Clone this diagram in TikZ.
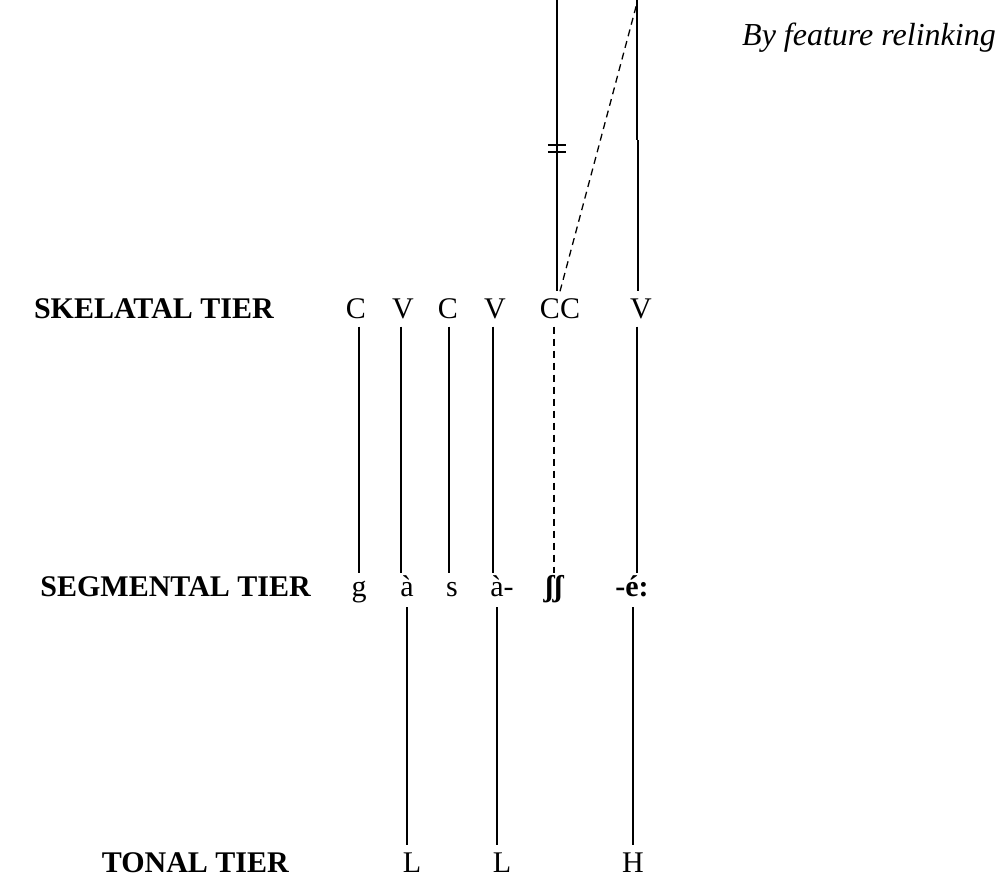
\documentclass[tikz,border=0pt]{standalone}
\usepackage{fontspec}
\setmainfont{Liberation Serif}
\begin{document}
\begin{tikzpicture}[x=1pt,y=-1pt,
  every node/.style={font=\fontsize{30}{36}\selectfont, inner xsep=0pt},
  skel/.style={text height=19pt, text depth=0pt, inner ysep=8pt},
  segm/.style={text height=19pt, text depth=6pt, inner ysep=4.5pt},
  tone/.style={text height=19pt, text depth=0pt, inner ysep=8pt},
  tierlabel/.style={font=\fontsize{30}{36}\selectfont\bfseries, anchor=east},
  assoc/.style={line width=1.3pt},
  dassoc/.style={line width=1.3pt, dash pattern=on 7pt off 5pt}]
\useasboundingbox (0,0) rectangle (1007,879);
% tier labels
\node[tierlabel, skel] (lskel) at (274,309) {SKELATAL TIER};
\node[tierlabel, segm] (lsegm) at (311,590) {SEGMENTAL TIER};
\node[tierlabel, tone] (ltone) at (289,863) {TONAL TIER};
% skeletal tier
\node[skel] (C1) at (356,309) {C};
\node[skel] (V1) at (403,309) {V};
\node[skel] (C2) at (448,309) {C};
\node[skel] (V2) at (495,309) {V};
\node[skel] (CC) at (560,309) {CC};
\node[skel] (V3) at (641,309) {V};
% segmental tier
\node[segm] (g) at (359,590) {g};
\node[segm] (a1) at (407,590) {à};
\node[segm] (s) at (452,590) {s};
\node[segm] (a2) at (502,590) {à-};
\node[segm, font=\fontsize{30}{36}\selectfont\bfseries] (sh) at (554,590) {ʃʃ};
\node[segm, font=\fontsize{30}{36}\selectfont\bfseries] (e) at (632,590) {-é:};
% tonal tier
\node[tone] (L1) at (412,863) {L};
\node[tone] (L2) at (502,863) {L};
\node[tone] (H) at (633,863) {H};
% top
\coordinate (topA) at (557,0);
\coordinate (topB) at (637,0);
\coordinate (midB) at (637,140);
\coordinate (midB2) at (638,140);
\coordinate (dtop) at (637,3);
\node[inner sep=0pt, minimum width=18pt, minimum height=7pt] (neq) at (557,148.5) {};
\node[font=\itshape\fontsize{32}{38}\selectfont, anchor=base west] (note) at (742,45) {By feature relinking};
% connectors skeletal -> segmental
\draw[assoc] ([xshift=3pt]C1.south) -- (g.north);
\draw[assoc] ([xshift=-2pt]V1.south) -- ([xshift=-6pt]a1.north);
\draw[assoc] ([xshift=1pt]C2.south) -- ([xshift=-3pt]s.north);
\draw[assoc] ([xshift=-2pt]V2.south) -- ([xshift=-9pt]a2.north);
\draw[dassoc] ([xshift=-6pt]CC.south) -- (sh.north);
\draw[assoc] ([xshift=-4pt]V3.south) -- ([xshift=5pt]e.north);
% segmental -> tonal
\draw[assoc] (a1.south) -- ([xshift=-5pt]L1.north);
\draw[assoc] ([xshift=-5pt]a2.south) -- ([xshift=-5pt]L2.north);
\draw[assoc] ([xshift=1pt]e.south) -- (H.north);
% top lines
\draw[assoc] (topA) -- ([xshift=-3pt]CC.north);
\draw[assoc] (topB) -- (midB);
\draw[assoc] (midB2) -- ([xshift=-3pt]V3.north);
\draw[dassoc] (CC.north) -- (dtop);
\draw[line width=1.8pt] (neq.north west) -- (neq.north east);
\draw[line width=1.8pt] (neq.south west) -- (neq.south east);
\end{tikzpicture}
\end{document}
